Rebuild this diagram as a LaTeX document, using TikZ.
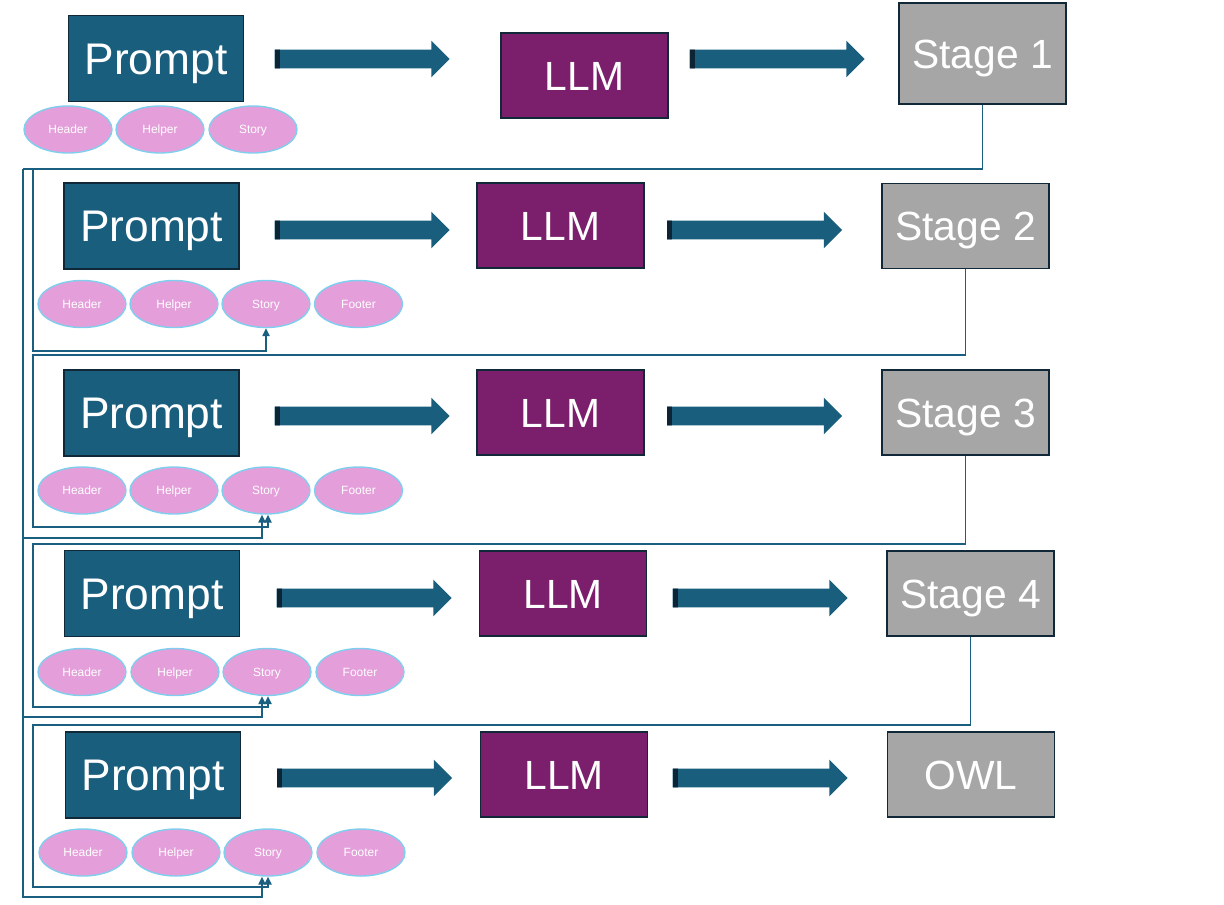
\documentclass[tikz,border=0pt]{standalone}
\usepackage{fontspec}
\setmainfont{Liberation Sans}
\usetikzlibrary{shapes.geometric,shapes.arrows,arrows.meta,calc}

\definecolor{promptblue}{RGB}{26,94,126}
\definecolor{boxedge}{RGB}{16,40,56}
\definecolor{llmpurple}{RGB}{123,31,108}
\definecolor{stagegray}{RGB}{166,166,166}
\definecolor{partpink}{RGB}{228,159,218}
\definecolor{partedge}{RGB}{128,206,238}
\definecolor{linkblue}{RGB}{26,94,128}
\definecolor{taildark}{RGB}{12,36,52}

\tikzset{
  prompt/.style={rectangle, draw=boxedge, line width=1pt, fill=promptblue, text=white,
    minimum width=4.375cm, minimum height=2.15cm, inner sep=0pt,
    text height=22.5pt, text depth=0pt, font=\fontsize{31.5}{33}\selectfont},
  llm/.style={rectangle, draw=boxedge, line width=1pt, fill=llmpurple, text=white,
    minimum width=4.175cm, minimum height=2.125cm, inner sep=0pt,
    text height=20.8pt, text depth=0pt, font=\fontsize{29}{31}\selectfont},
  stage/.style={rectangle, draw=boxedge, line width=1pt, fill=stagegray, text=white,
    minimum width=4.175cm, minimum height=2.125cm, inner sep=0pt,
    text height=20.8pt, text depth=0pt, font=\fontsize{29}{31}\selectfont},
  part/.style={ellipse, draw=partedge, line width=1pt, fill=partpink, text=white,
    minimum width=2.2cm, minimum height=1.175cm, inner sep=0pt,
    text height=6.1pt, text depth=0pt, font=\fontsize{8.5}{9}\selectfont},
  fatarrow/.style={single arrow, fill=promptblue, minimum height=4.375cm,
    inner xsep=0pt, inner ysep=0.225cm, single arrow head extend=0.225cm,
    path picture={\fill[taildark] (path picture bounding box.south west) rectangle
      ([xshift=0.13cm]path picture bounding box.north west);}},
  link/.style={draw=linkblue, line width=1.2pt},
  tip/.style={-{Triangle[length=0.2cm,width=0.18cm]}}
}

\begin{document}
\begin{tikzpicture}[x=0.025cm, y=-0.025cm]
  \useasboundingbox (0,0) rectangle (1224,904);

  % Row 1
  \node[prompt] (p1) at (156,58.5) {Prompt};
  \node[llm] (l1) at (584.5,75.5) {LLM};
  \node[stage, minimum height=2.525cm] (s1) at (982.5,53.5) {Stage 1};
  \node[fatarrow] (a11) at (357.5,59) {};
  \node[fatarrow] (a12) at (772.5,59) {};
  \node[part] (e11) at (68,129.5) {Header};
  \node[part] (e12) at (160,129.5) {Helper};
  \node[part] (e13) at (253,129.5) {Story};

  % Row 2
  \node[prompt] (p2) at (151.5,226) {Prompt};
  \node[llm] (l2) at (560.5,225.5) {LLM};
  \node[stage] (s2) at (965.5,226) {Stage 2};
  \node[fatarrow] (a21) at (357.5,230) {};
  \node[fatarrow] (a22) at (750,230) {};
  \node[part] (e21) at (82,304) {Header};
  \node[part] (e22) at (174,304) {Helper};
  \node[part] (e23) at (266,304) {Story};
  \node[part] (e24) at (358.5,304) {Footer};

  % Row 3
  \node[prompt] (p3) at (151.5,413) {Prompt};
  \node[llm] (l3) at (560.5,412.5) {LLM};
  \node[stage] (s3) at (965.5,412.5) {Stage 3};
  \node[fatarrow] (a31) at (357.5,416) {};
  \node[fatarrow] (a32) at (750,416) {};
  \node[part] (e31) at (82,490.5) {Header};
  \node[part] (e32) at (174,490.5) {Helper};
  \node[part] (e33) at (266,490.5) {Story};
  \node[part] (e34) at (358.5,490.5) {Footer};

  % Row 4
  \node[prompt] (p4) at (152,593.5) {Prompt};
  \node[llm] (l4) at (563,593.5) {LLM};
  \node[stage] (s4) at (970.5,593.5) {Stage 4};
  \node[fatarrow] (a41) at (359.5,598) {};
  \node[fatarrow] (a42) at (755.5,598) {};
  \node[part] (e41) at (82,672) {Header};
  \node[part] (e42) at (175,672) {Helper};
  \node[part] (e43) at (267,672) {Story};
  \node[part] (e44) at (360,672) {Footer};

  % Row 5
  \node[prompt] (p5) at (153,775) {Prompt};
  \node[llm] (l5) at (564,774.5) {LLM};
  \node[stage] (s5) at (971,774.5) {OWL};
  \node[fatarrow] (a51) at (360,778) {};
  \node[fatarrow] (a52) at (755.5,778) {};
  \node[part] (e51) at (83,852.5) {Header};
  \node[part] (e52) at (176,852.5) {Helper};
  \node[part] (e53) at (268,852.5) {Story};
  \node[part] (e54) at (361,852.5) {Footer};

  % Stage 1 feeds every later story
  \coordinate (bus) at (23,169);
  \coordinate (bin) at (33,169);
  \draw[link] (s1.south) |- (bus);
  \draw[link, tip] (bin) -- (33,351) -| (e23.south);
  \draw[link, tip] (bus) -- (23,897) -| ($(e53.south)+(-6,0)$);
  \draw[link, tip] (23,538) -| ($(e33.south)+(-4,0)$);
  \draw[link, tip] (23,717) -| ($(e43.south)+(-5,0)$);

  % Each stage feeds the next story
  \draw[link, tip] (s2.south) |- (33,355) -- (33,527) -| ($(e33.south)+(2,0)$);
  \draw[link, tip] (s3.south) |- (33,544) -- (33,707) -| ($(e43.south)+(1,0)$);
  \draw[link, tip] (s4.south) |- (33,725) -- (33,887) -| (e53.south);
\end{tikzpicture}
\end{document}
